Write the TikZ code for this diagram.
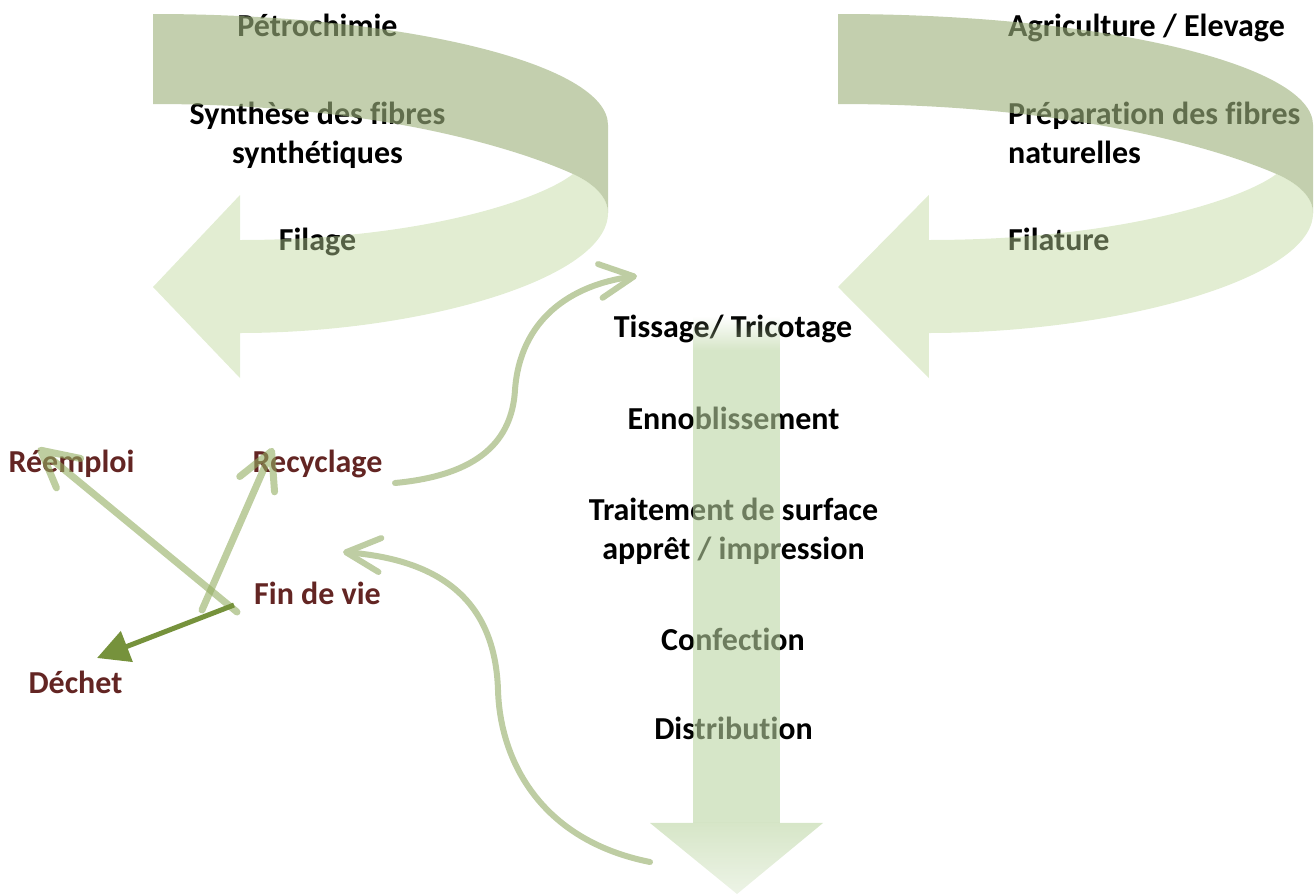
\documentclass[tikz,border=0pt]{standalone}
\usepackage{fontspec}
\setmainfont[Ligatures=NoCommon]{Carlito}
\usetikzlibrary{arrows.meta,fadings}
\definecolor{bandDark}{RGB}{158,178,125}
\definecolor{bandLight}{RGB}{190,215,155}
\definecolor{shaftGreen}{RGB}{186,212,161}
\definecolor{linkGreen}{RGB}{190,205,163}
\definecolor{lifeGreen}{RGB}{147,173,97}
\definecolor{wasteGreen}{HTML}{76923C}
\definecolor{lifeRed}{HTML}{632523}
\tikzfading[name=headfade, top color=transparent!0, bottom color=transparent!55]
\newcommand{\drawribbon}{%
  \fill[bandDark, fill opacity=0.62] (153,14) .. controls (404,14) and (608,64) .. (608,125) -- (608,213) .. controls (608,198) and (595,184) .. (573,174) .. controls (520,150) and (380,104) .. (153,104) -- cycle;
  \fill[bandLight, fill opacity=0.45] (573,174) .. controls (595,184) and (608,198) .. (608,213) .. controls (608,279) and (420,333) .. (240,333) -- (240,378) -- (153,287) -- (240,195) -- (240,240) .. controls (420,240) and (540,200) .. (573,174) -- cycle;
}
\begin{document}
\begin{tikzpicture}[x=1pt,y=-1pt,
  stage/.style={font=\bfseries\fontsize{32}{39}\selectfont, inner sep=0pt, anchor=base, align=center, text=black},
  stageleft/.style={stage, anchor=base west, align=left},
  life/.style={stage, text=lifeRed},
  link/.style={draw=linkGreen, line width=6pt, line cap=round, -{Straight Barb[length=34pt,width=34pt,round]}},
  lifelink/.style={draw=lifeGreen, line width=7pt, line cap=round, -{Straight Barb[length=36pt,width=38pt,round]}},
  wastelink/.style={draw=wasteGreen, line width=5pt, -{Triangle[length=32pt,width=32pt]}}
]
\useasboundingbox (0,0) rectangle (1316,894);
% texts (drawn first, shapes lie over them); multi-line nodes sit on their last baseline
\node[stage] (petro) at (317.5,36) {Pétrochimie};
\node[stage] (synth) at (317.5,163) {Synthèse des fibres\\synthétiques};
\node[stage] (filage) at (317.5,250) {Filage};
\node[stageleft] (agri) at (1008,36) {Agriculture / Elevage};
\node[stageleft] (prep) at (1008,163) {Préparation des fibres\\naturelles};
\node[stageleft] (filature) at (1008,250) {Filature};
\node[stage] (tiss) at (733,337) {Tissage/ Tricotage};
\node[stage] (ennob) at (733.5,429) {Ennoblissement};
\node[stage] (trait) at (733.5,559) {Traitement de surface\\apprêt / impression};
\node[stage] (conf) at (733,650) {Confection};
\node[stage] (distr) at (733.5,739) {Distribution};
\node[life] (reemp) at (71.5,472) {Réemploi};
\node[life] (recyc) at (317.5,472) {Recyclage};
\node[life] (fin) at (317.5,604) {Fin de vie};
\node[life] (dechet) at (75.5,693) {Déchet};
% ribbons
\drawribbon
\begin{scope}[shift={(838,0)}, xscale=1.044, shift={(-153,0)}]
  \drawribbon
\end{scope}
% down arrow
\fill[shaftGreen, fill opacity=0.59, path fading=north] (693,316) rectangle (780,350);
\fill[shaftGreen, fill opacity=0.59] (693,350) rectangle (780,823);
\fill[shaftGreen, fill opacity=0.59, path fading=headfade] (650,823) -- (823,823) -- (737,894) -- cycle;
% connectors
\coordinate (recOut) at (395,483);
\coordinate (tissIn) at (637,276);
\coordinate (distOut) at (650,862);
\coordinate (finIn) at (343,552);
\coordinate (finA) at (237,612);
\coordinate (finB) at (202,610);
\coordinate (finC) at (234,605);
\coordinate (reempIn) at (38,448);
\coordinate (recycIn) at (273,448);
\coordinate (dechetIn) at (97,658);
\draw[link] (recOut) .. controls (480,475) and (512,440) .. (515,390) .. controls (520,320) and (570,285) .. (tissIn);
\draw[link] (distOut) .. controls (540,840) and (500,760) .. (498,690) .. controls (495,600) and (440,560) .. (finIn);
\begin{scope}[transparency group, opacity=0.6]
  \draw[lifelink] (finA) -- (reempIn);
\end{scope}
\begin{scope}[transparency group, opacity=0.6]
  \draw[lifelink] (finB) -- (recycIn);
\end{scope}
\draw[wastelink] (finC) -- (dechetIn);
\end{tikzpicture}
\end{document}
